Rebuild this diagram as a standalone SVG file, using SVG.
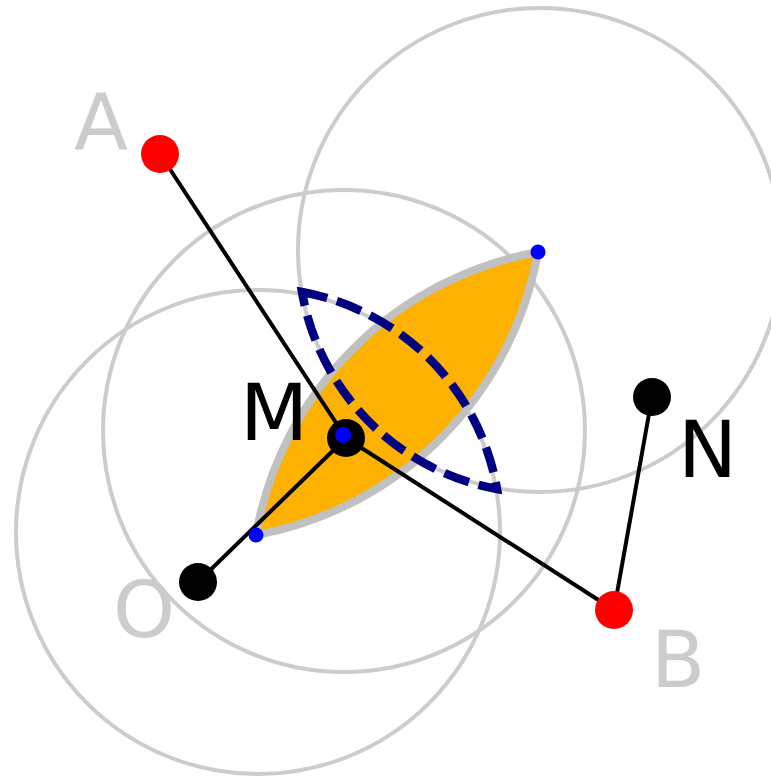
<svg xmlns="http://www.w3.org/2000/svg" width="771" height="776" viewBox="0 0 771 776">
<style>
.circ{fill:none;stroke:#cccccc;stroke-width:4}
.seg{stroke:#000;stroke-width:4;fill:none}
.lbl{font-family:"DejaVu Sans",sans-serif;font-size:79px}
.gray{fill:#cccccc}
.blk{fill:#000}
.red{fill:#ff0000}
.blue{fill:#0000ff}
</style>
<rect width="771" height="776" fill="#fff"/>
<g id="circles">
<circle class="circ" cx="258" cy="532" r="242"/>
<circle class="circ" cx="344" cy="431" r="241"/>
<circle class="circ" cx="540" cy="250" r="242"/>
</g>
<g id="lens">
<path d="M256 535 A350 350 0 0 1 538 252 A350 350 0 0 1 256 535 Z" fill="#fdb100" stroke="#c0c0c0" stroke-width="8" stroke-linejoin="miter"/>
</g>
<g id="dashed-lens">
<path d="M302 292 A242 242 0 0 1 497 489 A242 242 0 0 1 302 292 Z" fill="none" stroke="#000080" stroke-width="8.5" stroke-dasharray="26 10" stroke-linejoin="miter"/>
</g>
<g id="connectors">
<line class="seg" x1="160" y1="154" x2="346" y2="438"/>
<line class="seg" x1="346" y1="438" x2="614" y2="610"/>
<line class="seg" x1="198" y1="582" x2="346" y2="438"/>
<line class="seg" x1="614" y1="610" x2="652" y2="397"/>
</g>
<g id="A"><circle class="red" cx="160" cy="154" r="19"/><text class="lbl gray" x="74" y="150">A</text></g>
<g id="B"><circle class="red" cx="614" cy="610" r="19"/><text class="lbl gray" x="651" y="687">B</text></g>
<g id="M"><circle class="blk" cx="346" cy="438" r="19"/><text class="lbl blk" x="240" y="440">M</text></g>
<g id="N"><circle class="blk" cx="652" cy="397" r="19"/><text class="lbl blk" x="678" y="477">N</text></g>
<g id="O"><circle class="blk" cx="198" cy="582" r="19"/><text class="lbl gray" x="113" y="637">O</text></g>
<g id="dots">
<circle class="blue" cx="343" cy="435" r="8"/>
<circle class="blue" cx="256" cy="535" r="7.5"/>
<circle class="blue" cx="538" cy="252" r="7.5"/>
</g>
</svg>
